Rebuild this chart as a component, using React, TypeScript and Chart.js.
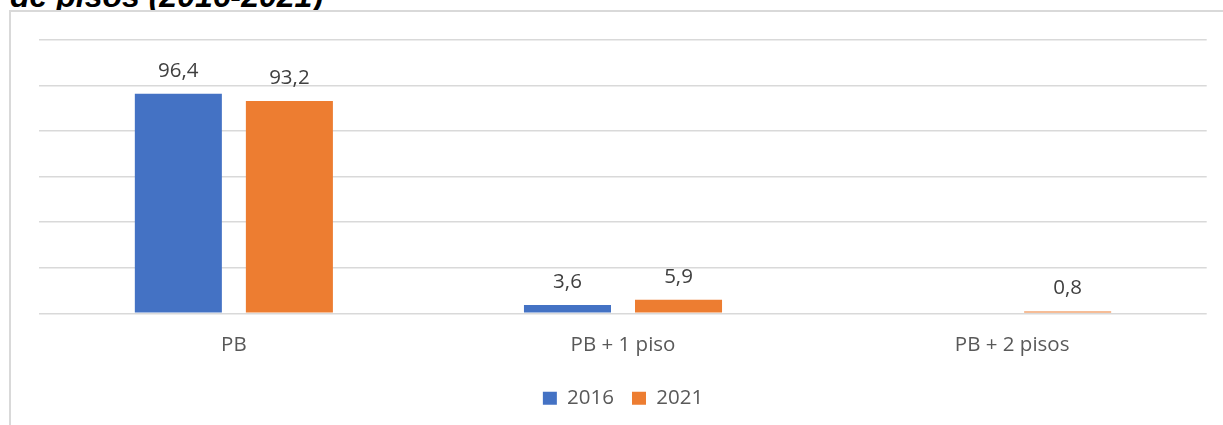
import React, { useEffect, useRef } from "react";
import { Chart, registerables } from "chart.js";

Chart.register(...registerables);

const categories = ["PB", "PB + 1 piso", "PB + 2 pisos"];
const series2016 = [96.4, 3.6, null];
const series2021 = [93.2, 5.9, 0.8];
const seriesNames = ["2016", "2021"];
const titleText = "de pisos (2016-2021)";

const FONT = "'Open Sans', 'Noto Sans', sans-serif";

const valueLabels = {
  id: "valueLabels",
  afterDatasetsDraw(chart: any) {
    const ctx = chart.ctx;
    ctx.save();
    ctx.font = `20.5px ${FONT}`;
    ctx.fillStyle = "#404040";
    ctx.textAlign = "center";
    ctx.textBaseline = "alphabetic";
    chart.data.datasets.forEach((ds: any, di: number) => {
      const meta = chart.getDatasetMeta(di);
      meta.data.forEach((bar: any, i: number) => {
        const v = ds.data[i];
        if (v === null || v === undefined) return;
        const txt = v.toFixed(1).replace(".", ",");
        ctx.fillText(txt, bar.x, bar.y - 17);
      });
    });
    ctx.restore();
  },
};

export default function App() {
  const canvasRef = useRef<HTMLCanvasElement | null>(null);

  useEffect(() => {
    if (!canvasRef.current) return;
    const chart = new Chart(canvasRef.current, {
      type: "bar",
      data: {
        labels: categories,
        datasets: [
          {
            label: seriesNames[0],
            data: series2016,
            backgroundColor: "#4472C4",
            borderWidth: 0,
            categoryPercentage: 0.5707,
            barPercentage: 0.7838,
          },
          {
            label: seriesNames[1],
            data: series2021,
            backgroundColor: "#ED7D31",
            borderWidth: 0,
            categoryPercentage: 0.5707,
            barPercentage: 0.7838,
          },
        ],
      },
      options: {
        responsive: false,
        maintainAspectRatio: false,
        animation: false,
        layout: { padding: { left: 39.3, right: 16.3, top: 40, bottom: 6.6 } },
        plugins: {
          title: { display: false },
          tooltip: { enabled: false },
          legend: {
            position: "bottom",
            labels: {
              boxWidth: 14,
              boxHeight: 13,
              padding: 18,
              color: "#595959",
              font: { family: FONT, size: 20.5 },
            },
          },
        },
        scales: {
          x: {
            grid: { display: false, drawTicks: false },
            border: { display: false },
            ticks: {
              color: "#595959",
              padding: 19.5,
              font: { family: FONT, size: 20.5 },
              maxRotation: 0,
              autoSkip: false,
            },
            afterFit: (scale: any) => {
              scale.height = 56.6;
            },
          },
          y: {
            min: 0,
            max: 120,
            ticks: { display: false, stepSize: 20 },
            grid: { color: "#d9d9d9", lineWidth: 1.5, drawTicks: false },
            border: { display: false },
            afterFit: (scale: any) => {
              scale.width = 0;
            },
          },
        },
      },
      plugins: [valueLabels],
    });
    return () => chart.destroy();
  }, []);

  return (
    <div
      style={{
        position: "absolute",
        left: 0,
        top: 0,
        width: 1223,
        height: 425,
        overflow: "hidden",
        background: "#fff",
      }}
    >
      <div
        style={{
          position: "absolute",
          left: 10,
          top: -19,
          font: "italic bold 32px 'Liberation Sans', Arial, sans-serif",
          lineHeight: "31px",
          color: "#000",
          whiteSpace: "nowrap",
        }}
      >
        {titleText}
      </div>
      <div
        style={{
          position: "absolute",
          left: 9,
          top: 10,
          width: 1300,
          height: 500,
          border: "2px solid #d9d9d9",
          background: "#fff",
        }}
      />
      <canvas
        ref={canvasRef}
        width={1223}
        height={425}
        style={{ position: "absolute", left: 0, top: 0, display: "block" }}
      />
    </div>
  );
}
